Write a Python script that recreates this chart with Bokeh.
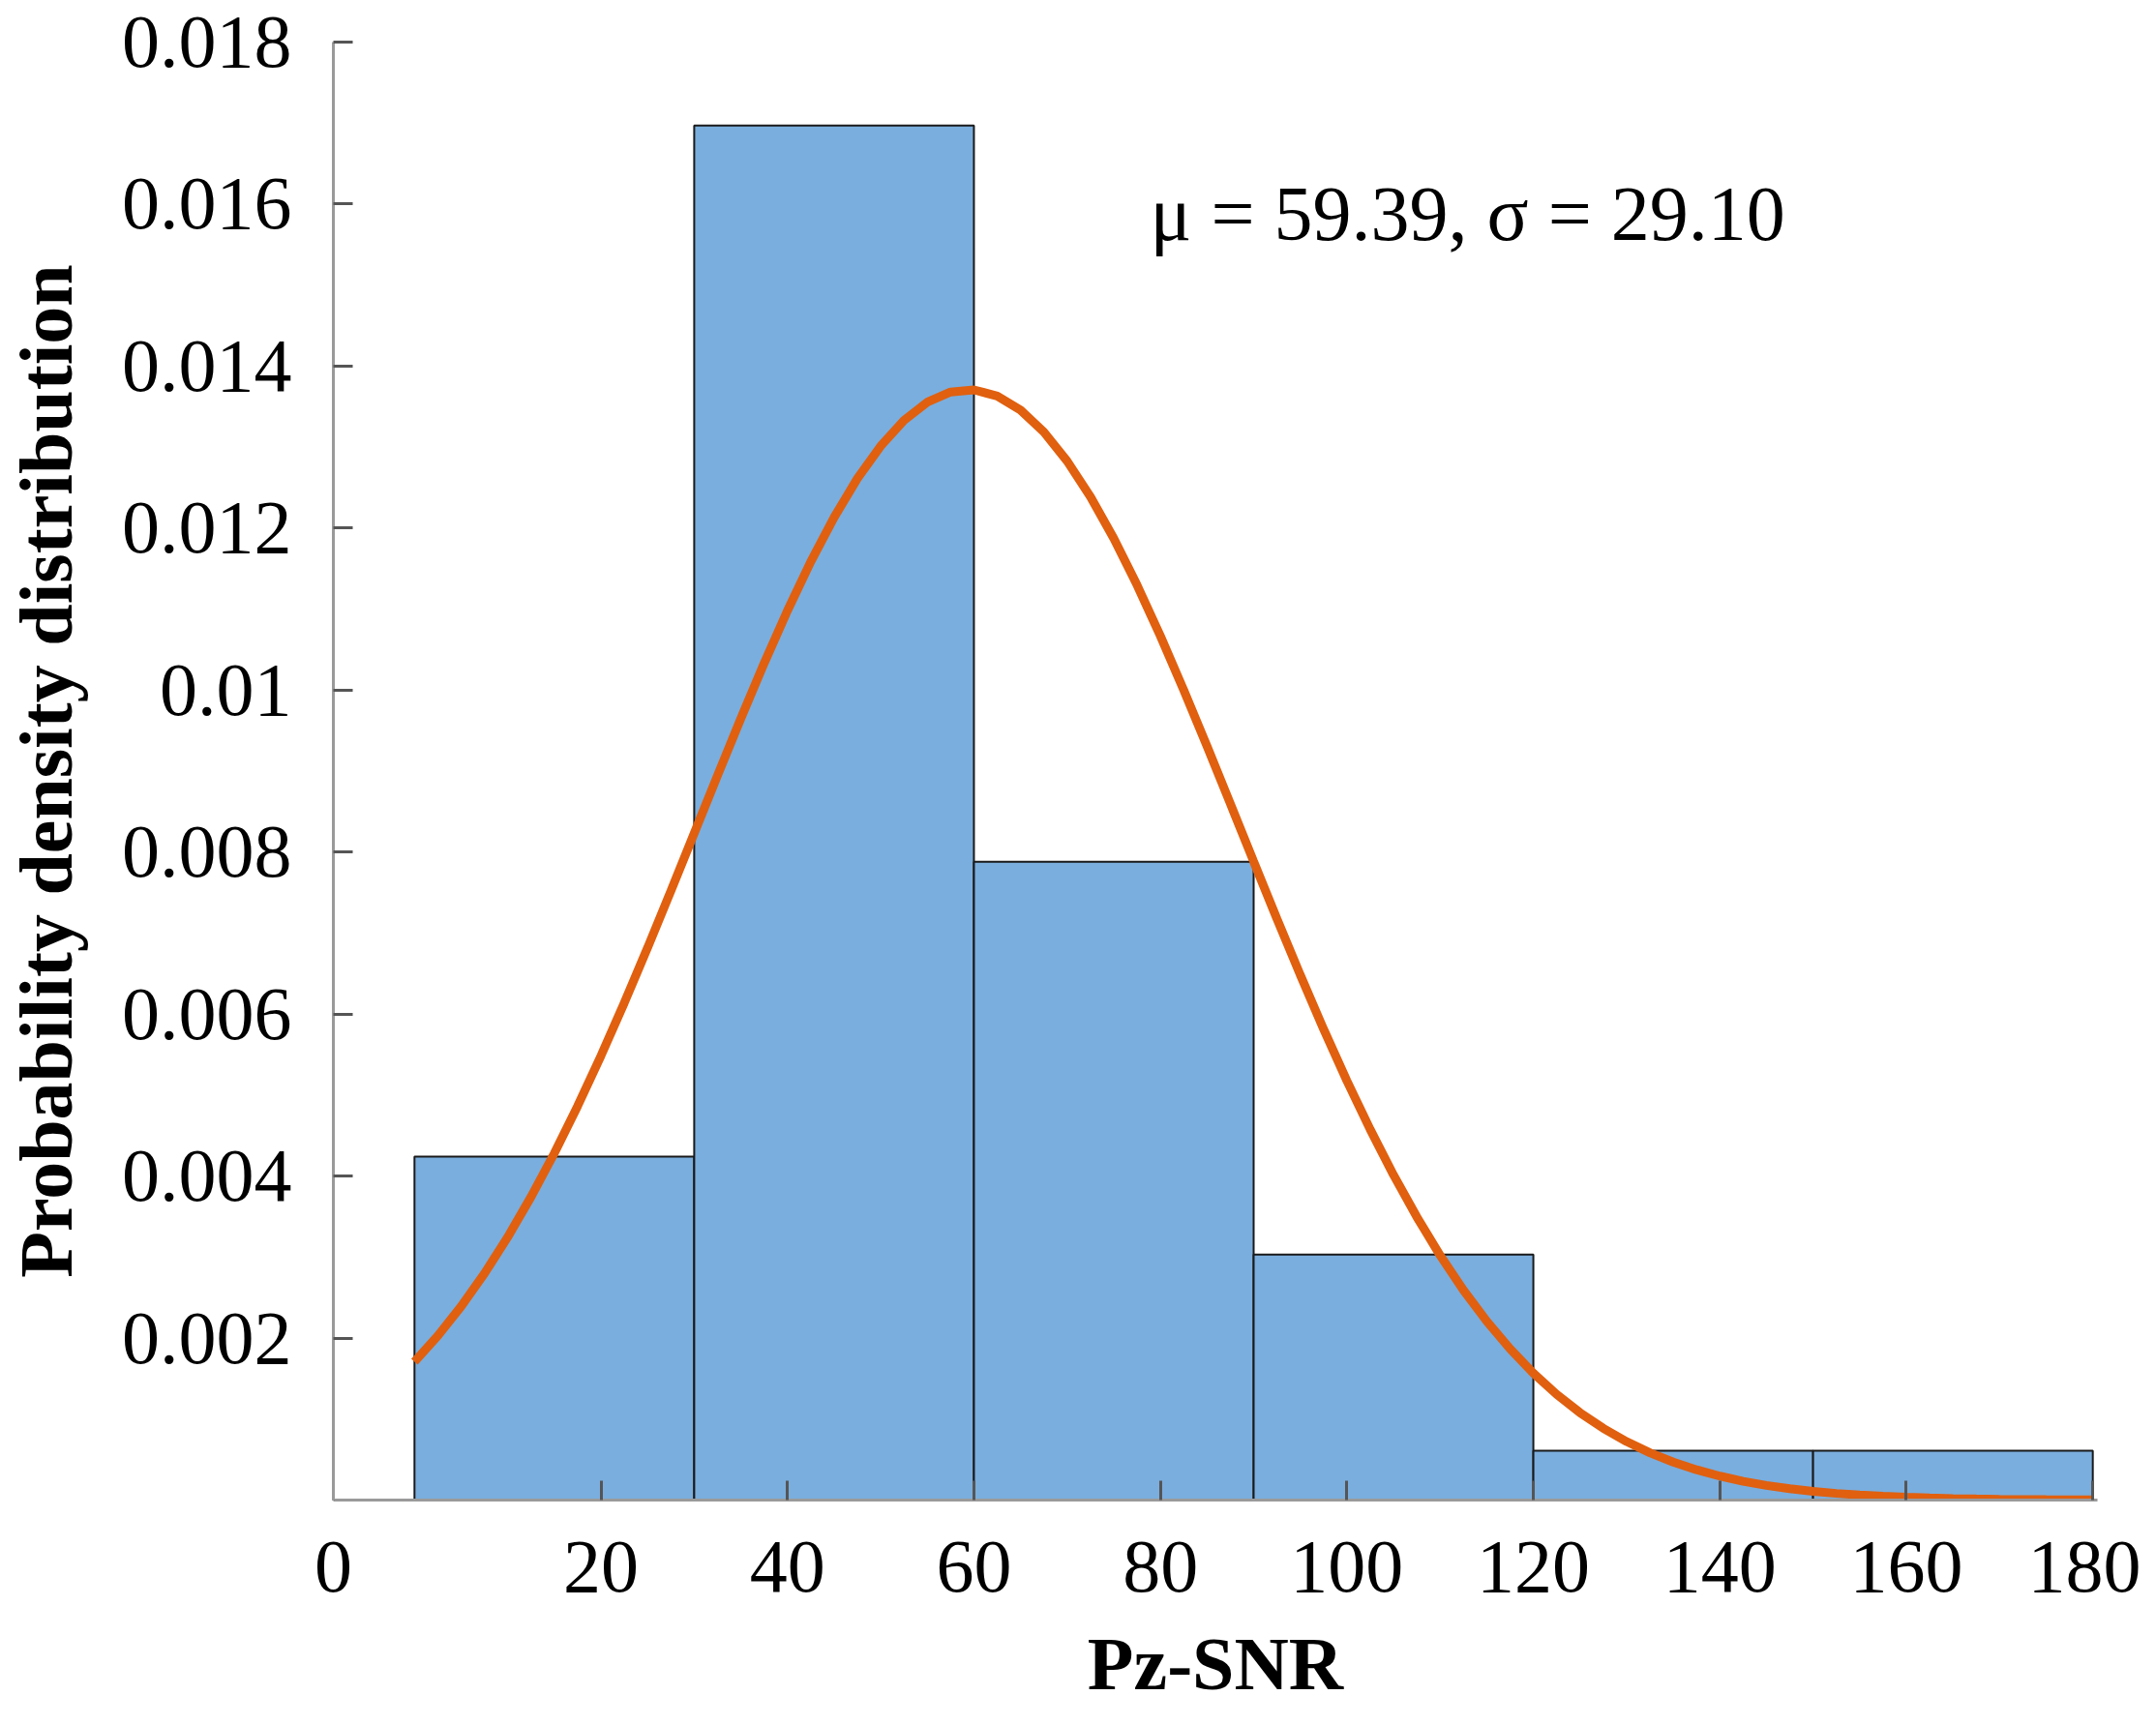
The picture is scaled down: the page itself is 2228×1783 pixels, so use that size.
from bokeh.plotting import figure
from bokeh.models import Range1d, FixedTicker, Label, ColumnDataSource
from bokeh.embed import file_html
from bokeh.resources import INLINE

# ---- data ----
bin_left = [0, 30, 60, 90, 120, 150]
bin_right = [30, 60, 90, 120, 150, 180]
density = [0.00424, 0.01697, 0.00788, 0.00303, 0.00061, 0.00061]

curve_x = [0, 2.5, 5, 7.5, 10, 12.5, 15, 17.5, 20, 22.5, 25, 27.5, 30, 32.5, 35, 37.5,
           40, 42.5, 45, 47.5, 50, 52.5, 55, 57.5, 60, 62.5, 65, 67.5, 70, 72.5, 75,
           77.5, 80, 82.5, 85, 87.5, 90, 92.5, 95, 97.5, 100, 102.5, 105, 107.5, 110,
           112.5, 115, 117.5, 120, 122.5, 125, 127.5, 130, 132.5, 135, 137.5, 140,
           142.5, 145, 147.5, 150, 152.5, 155, 157.5, 160, 162.5, 165, 167.5, 170,
           172.5, 175, 177.5, 180]
curve_y = [0.001708, 0.002028, 0.002390, 0.002796, 0.003247, 0.003743, 0.004282,
           0.004865, 0.005485, 0.006138, 0.006819, 0.007520, 0.008232, 0.008945,
           0.009648, 0.010331, 0.010980, 0.011584, 0.012131, 0.012611, 0.013013,
           0.013330, 0.013554, 0.013680, 0.013706, 0.013631, 0.013457, 0.013187,
           0.012827, 0.012386, 0.011872, 0.011295, 0.010668, 0.010001, 0.009307,
           0.008598, 0.007884, 0.007176, 0.006484, 0.005815, 0.005177, 0.004576,
           0.004014, 0.003496, 0.003021, 0.002592, 0.002208, 0.001867, 0.001567,
           0.001305, 0.001079, 0.000886, 0.000722, 0.000584, 0.000469, 0.000374,
           0.000296, 0.000232, 0.000181, 0.000140, 0.000107, 0.0000820, 0.0000620,
           0.0000466, 0.0000348, 0.0000257, 0.0000189, 0.0000138, 0.0000100,
           0.0000072, 0.0000051, 0.0000036, 0.0000026]

# the reference prints its origin "0" at the left end of the x axis
x_start = -8.7
x_ticks = [x_start + 0.01, 20, 40, 60, 80, 100, 120, 140, 160, 180]
x_tick_labels = ["0", "20", "40", "60", "80", "100", "120", "140", "160", "180"]
y_ticks = [0.002, 0.004, 0.006, 0.008, 0.010, 0.012, 0.014, 0.016, 0.018]
y_tick_labels = ["0.002", "0.004", "0.006", "0.008", "0.01", "0.012", "0.014", "0.016", "0.018"]

x_title = "Pz-SNR"
y_title = "Probability density distribution"
stats_text = "\u03bc = 59.39, \u03c3 = 29.10"

FONT = "Liberation Serif"

p = figure(width=2212, height=1767, output_backend="svg", toolbar_location=None,
           x_range=Range1d(x_start, 180.5), y_range=Range1d(0, 0.018),
           min_border_left=340, min_border_right=45, min_border_top=43,
           min_border_bottom=217)
p.outline_line_color = None
p.xgrid.visible = False
p.ygrid.visible = False
p.background_fill_color = "white"
p.border_fill_color = "white"

src = ColumnDataSource(dict(left=bin_left, right=bin_right, top=density))
p.quad(left="left", right="right", top="top", bottom=0, source=src,
       fill_color="#7AAEDE", line_color="#1a1a1a", line_width=2)

csrc = ColumnDataSource(dict(x=curve_x, y=curve_y))
p.line(x="x", y="y", source=csrc, line_color="#E0600F", line_width=9)

for ax in (p.xaxis[0], p.yaxis[0]):
    ax.axis_line_color = "#9a9a9a"
    ax.axis_line_width = 3
    ax.major_tick_line_color = "#555555"
    ax.major_tick_line_width = 3
    ax.major_tick_in = 20
    ax.major_tick_out = 0
    ax.minor_tick_line_color = None
    ax.major_label_standoff = 43
    ax.major_label_text_font = FONT
    ax.major_label_text_font_size = "78px"
    ax.major_label_text_color = "black"

p.xaxis[0].ticker = FixedTicker(ticks=x_ticks)
p.xaxis[0].major_label_overrides = {t: s for t, s in zip(x_ticks, x_tick_labels)}
p.yaxis[0].ticker = FixedTicker(ticks=y_ticks)
p.yaxis[0].major_label_overrides = {t: s for t, s in zip(y_ticks, y_tick_labels)}

p.yaxis[0].axis_label = y_title
p.yaxis[0].axis_label_text_font = FONT
p.yaxis[0].axis_label_text_font_style = "bold"
p.yaxis[0].axis_label_text_font_size = "78px"
p.yaxis[0].axis_label_text_color = "black"
p.yaxis[0].axis_label_standoff = 32

p.xaxis[0].axis_label = x_title
p.xaxis[0].axis_label_text_font = FONT
p.xaxis[0].axis_label_text_font_style = "bold"
p.xaxis[0].axis_label_text_font_size = "78px"
p.xaxis[0].axis_label_text_color = "black"
p.xaxis[0].axis_label_standoff = 28

# fit annotation
p.add_layout(Label(x=78.9, y=0.01588, text=stats_text, text_font=FONT,
                   text_font_size="80px", text_align="left",
                   text_baseline="middle", text_color="black"))

open("out.html", "w").write(file_html(p, INLINE))
